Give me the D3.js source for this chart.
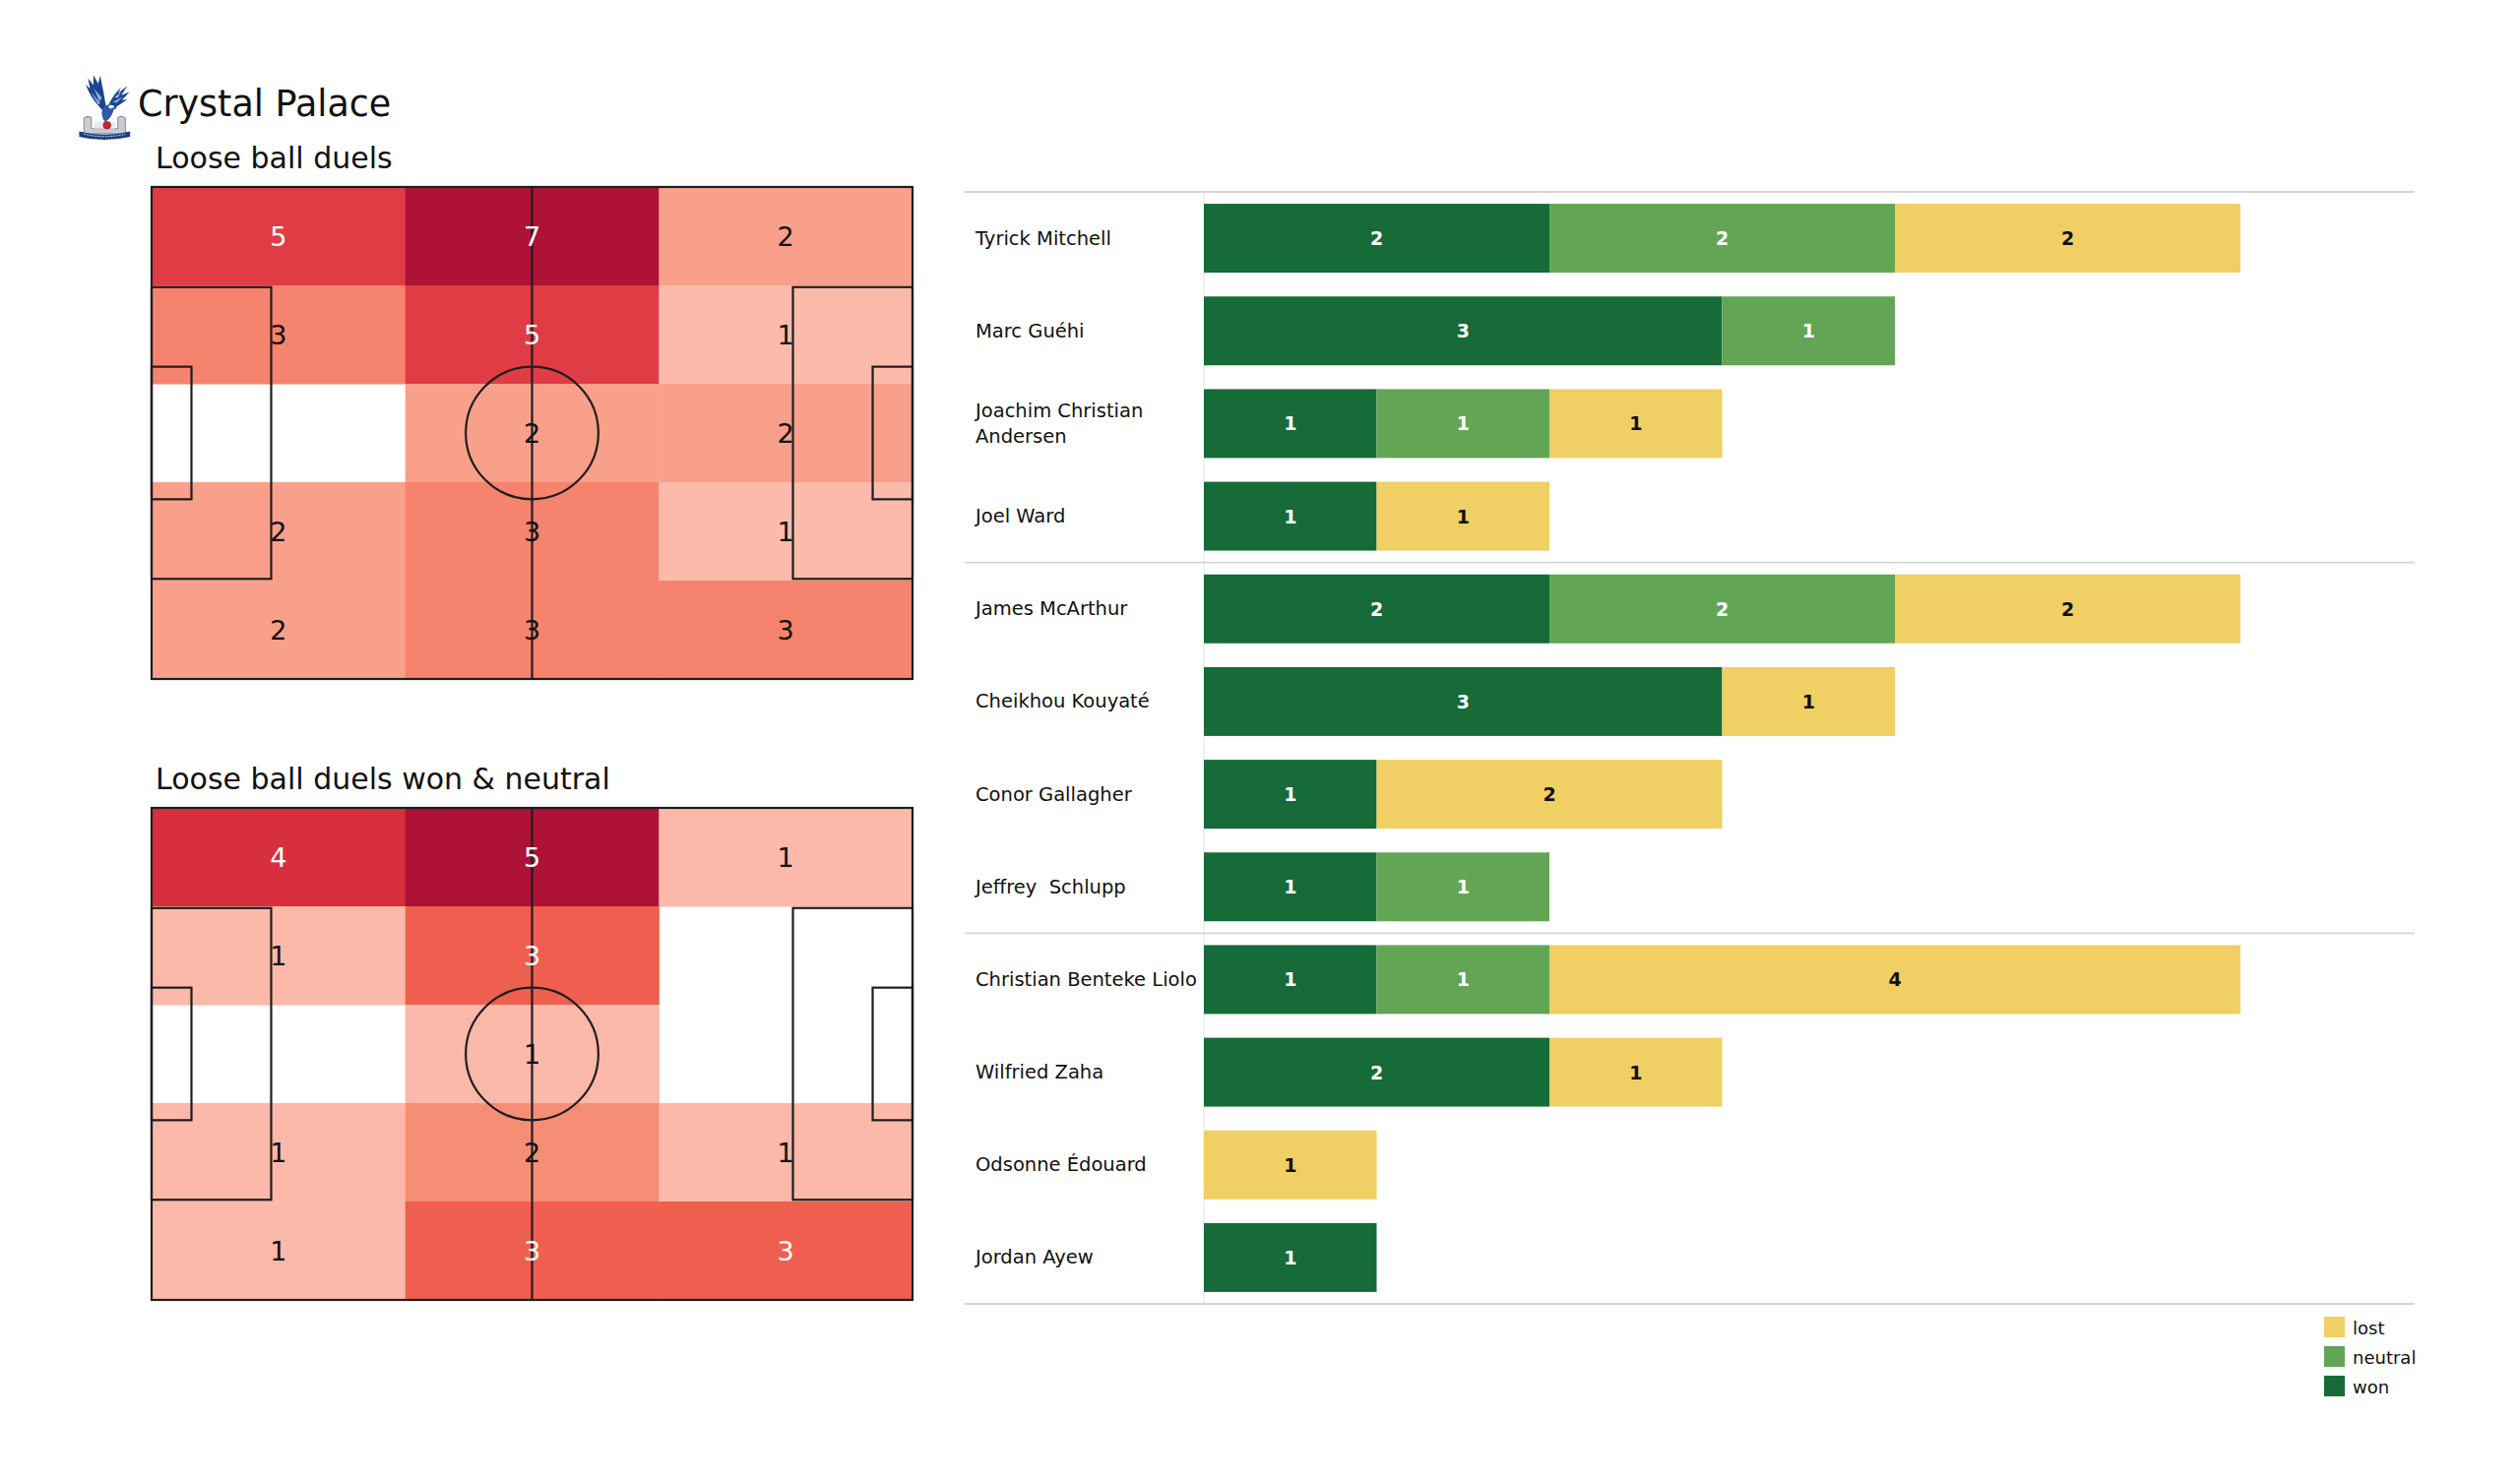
<!DOCTYPE html>
<html>
<head>
<meta charset="utf-8">
<script src="https://cdn.jsdelivr.net/npm/d3@7"></script>
<style>
  html, body { margin: 0; padding: 0; background: #ffffff; }
  svg { display: block; font-family: "DejaVu Sans", sans-serif; }
</style>
</head>
<body>
<script>
// ---------------- DATA ----------------
const teamName = "Crystal Palace";
const pitchTitles = ["Loose ball duels", "Loose ball duels won & neutral"];

// heatmap counts, rows top->bottom, columns left->right (3 x 5 bins)
const duelsAll = [
  [5, 7, 2],
  [3, 5, 1],
  [0, 2, 2],
  [2, 3, 1],
  [2, 3, 3]
];
const duelsWonNeutral = [
  [4, 5, 1],
  [1, 3, 0],
  [0, 1, 0],
  [1, 2, 1],
  [1, 3, 3]
];

const players = [
  "Tyrick Mitchell", "Marc Guéhi", "Joachim Christian\nAndersen", "Joel Ward",
  "James McArthur", "Cheikhou Kouyaté", "Conor Gallagher", "Jeffrey  Schlupp",
  "Christian Benteke Liolo", "Wilfried Zaha", "Odsonne Édouard", "Jordan Ayew"
];
const wonValues     = [2, 3, 1, 1, 2, 3, 1, 1, 1, 2, 0, 1];
const neutralValues = [2, 1, 1, 0, 2, 0, 0, 1, 1, 0, 0, 0];
const lostValues    = [2, 0, 1, 1, 2, 1, 2, 0, 4, 1, 1, 0];
const seriesKeys = ["won", "neutral", "lost"];
const legendLabels = ["lost", "neutral", "won"];
const groupBreaks = [4, 8]; // separator lines after these rows

// ---------------- SETUP ----------------
const W = 2560, H = 1504;
const svg = d3.select("body").append("svg").attr("width", W).attr("height", H);
svg.append("rect").attr("width", W).attr("height", H).attr("fill", "#ffffff");

const colors = { won: "#166b38", neutral: "#62a655", lost: "#f0cf64" };

// ---------------- LOGO ----------------
const logo = svg.append("g").attr("transform", "translate(68,72) scale(0.345)");
// crest base (grey stand)
logo.append("path").attr("d", "M50,185 L50,140 Q60,130 72,138 L72,170 L150,170 L150,138 Q162,130 172,140 L172,185 Z")
  .attr("fill", "#c9ccd3").attr("stroke", "#8a8f99").attr("stroke-width", 3);
logo.append("path").attr("d", "M80,170 L80,150 L142,150 L142,170 Z").attr("fill", "#e8e9ee");
// eagle wings
logo.append("path").attr("d", "M108,120 C90,100 70,80 55,40 L68,52 L62,22 L78,42 L78,12 L92,38 L98,14 L104,44 C110,70 112,95 118,112 Z")
  .attr("fill", "#1b458f");
logo.append("path").attr("d", "M80,52 L95,90 L103,80 Z M70,60 L92,100 L98,95 Z").attr("fill", "#8fb0e0");
logo.append("path").attr("d", "M118,112 C126,90 138,70 160,48 L150,66 L178,44 L160,72 L184,62 L162,86 L178,84 C158,98 140,108 128,120 Z")
  .attr("fill", "#1b458f");
logo.append("path").attr("d", "M140,78 L160,60 L150,80 Z M135,92 L165,76 L146,94 Z").attr("fill", "#8fb0e0");
// body and head
logo.append("path").attr("d", "M105,112 C110,100 128,96 138,104 L148,110 L138,114 C134,130 124,145 112,150 C104,140 100,124 105,112 Z")
  .attr("fill", "#2a5aa8");
logo.append("path").attr("d", "M122,104 C128,98 138,100 140,106 L133,110 C128,112 124,110 122,104 Z").attr("fill", "#ffffff");
// red ball
logo.append("circle").attr("cx", 118).attr("cy", 160).attr("r", 11).attr("fill", "#d0202e").attr("stroke", "#7a1018").attr("stroke-width", 2);
// banner
logo.append("path").attr("d", "M36,178 Q110,198 186,178 L186,194 Q110,212 36,194 Z").attr("fill", "#1b3f80");
logo.append("path").attr("d", "M50,186 Q110,201 172,186").attr("stroke", "#c8d2ea").attr("stroke-width", 3).attr("fill", "none").attr("stroke-dasharray", "5,3");

// ---------------- TITLES ----------------
svg.append("text").attr("x", 140).attr("y", 118).attr("font-size", 36.5).attr("fill", "#111").text(teamName);

// ---------------- PITCHES ----------------
const pitchLen = 105, pitchWid = 68;
const colorStops = [0.14, 0.2, 0.286, 0.4, 0.43, 0.6, 0.714, 0.8, 1.0];
const colorVals  = ["#fcbbaa", "#fcb8a8", "#f9a08a", "#f68e76", "#f6826e", "#ef5f4f", "#e03c45", "#d72f3d", "#ae1237"];
const heatColor = d3.scaleLinear().domain(colorStops).range(colorVals).clamp(true);

function drawPitch(counts, title, top) {
  const x = d3.scaleLinear().domain([0, pitchLen]).range([154, 927]);
  const y = d3.scaleLinear().domain([0, pitchWid]).range([top, top + 500]);
  const g = svg.append("g");
  svg.append("text").attr("x", 158).attr("y", top - 19).attr("font-size", 30).attr("fill", "#111").text(title);

  const nRows = counts.length, nCols = counts[0].length;
  const maxV = d3.max(counts.flat());
  const cells = [];
  counts.forEach((row, r) => row.forEach((v, c) => cells.push({ r, c, v })));
  const cw = pitchLen / nCols, rh = pitchWid / nRows;

  g.selectAll("rect.cell").data(cells.filter(d => d.v > 0)).join("rect")
    .attr("class", "cell")
    .attr("x", d => x(d.c * cw))
    .attr("y", d => y(d.r * rh))
    .attr("width", d => x((d.c + 1) * cw) - x(d.c * cw) + 0.5)
    .attr("height", d => y((d.r + 1) * rh) - y(d.r * rh) + 0.5)
    .attr("fill", d => heatColor(d.v / maxV));

  // pitch markings
  const lines = g.append("g").attr("fill", "none").attr("stroke", "#1e1e1e").attr("stroke-width", 2.2);
  lines.append("rect").attr("x", x(0)).attr("y", y(0)).attr("width", x(pitchLen) - x(0)).attr("height", y(pitchWid) - y(0));
  lines.append("line").attr("x1", x(pitchLen / 2)).attr("x2", x(pitchLen / 2)).attr("y1", y(0)).attr("y2", y(pitchWid));
  lines.append("ellipse").attr("cx", x(pitchLen / 2)).attr("cy", y(pitchWid / 2))
    .attr("rx", x(9.15) - x(0)).attr("ry", y(9.15) - y(0));
  const pa = [16.5, 40.32], sy = [5.5, 18.32];
  [[0, 1], [pitchLen, -1]].forEach(([x0, dir]) => {
    [pa, sy].forEach(([depth, width]) => {
      const xa = x0, xb = x0 + dir * depth;
      lines.append("rect")
        .attr("x", x(Math.min(xa, xb))).attr("width", x(depth) - x(0))
        .attr("y", y((pitchWid - width) / 2)).attr("height", y(width) - y(0));
    });
  });

  g.selectAll("text.val").data(cells.filter(d => d.v > 0)).join("text")
    .attr("class", "val")
    .attr("x", d => x((d.c + 0.5) * cw))
    .attr("y", d => y((d.r + 0.5) * rh))
    .attr("text-anchor", "middle").attr("dominant-baseline", "central")
    .attr("font-size", 27)
    .attr("fill", d => d.v / maxV > 0.5 ? "#ffffff" : "#111111")
    .text(d => d.v);
}
drawPitch(duelsAll, pitchTitles[0], 190);
drawPitch(duelsWonNeutral, pitchTitles[1], 821);

// ---------------- BAR CHART ----------------
const barData = players.map((p, i) => ({ player: p, won: wonValues[i], neutral: neutralValues[i], lost: lostValues[i] }));
const stacked = d3.stack().keys(seriesKeys)(barData);
const yb = d3.scaleBand().domain(players).range([195, 1325]).paddingInner(0.257).paddingOuter(0.1285);
const xb = d3.scaleLinear().domain([0, 6]).range([1223, 2276]);

const bc = svg.append("g");
// faint axis line
bc.append("line").attr("x1", 1223).attr("x2", 1223).attr("y1", 195).attr("y2", 1325)
  .attr("stroke", "#eeeeee").attr("stroke-width", 1.5);

// separator lines
const step = yb.step();
const sepYs = [0].concat(groupBreaks, [players.length]).map(k => 195 + k * step);
bc.selectAll("line.sep").data(sepYs).join("line").attr("class", "sep")
  .attr("x1", 980).attr("x2", 2453).attr("y1", d => d).attr("y2", d => d)
  .attr("stroke", "#d5d5d5").attr("stroke-width", 1.8);

stacked.forEach(series => {
  const key = series.key;
  const segs = series.map((d, i) => ({ key, x0: d[0], x1: d[1], player: players[i] })).filter(d => d.x1 > d.x0);
  bc.selectAll(null).data(segs).join("rect")
    .attr("x", d => xb(d.x0)).attr("width", d => xb(d.x1) - xb(d.x0))
    .attr("y", d => yb(d.player)).attr("height", yb.bandwidth())
    .attr("fill", colors[key]);
  bc.selectAll(null).data(segs).join("text")
    .attr("x", d => (xb(d.x0) + xb(d.x1)) / 2)
    .attr("y", d => yb(d.player) + yb.bandwidth() / 2)
    .attr("text-anchor", "middle").attr("dominant-baseline", "central")
    .attr("font-size", 19).attr("font-weight", "bold")
    .attr("fill", key === "lost" ? "#111" : "#ffffff")
    .text(d => d.x1 - d.x0);
});

// player names
players.forEach(p => {
  const lines = p.split("\n");
  const cy = yb(p) + yb.bandwidth() / 2;
  const t = bc.append("text").attr("x", 991).attr("font-size", 19.5).attr("fill", "#111");
  lines.forEach((ln, j) => {
    t.append("tspan").attr("x", 991)
      .attr("y", cy + (j - (lines.length - 1) / 2) * 26)
      .attr("dominant-baseline", "central")
      .attr("xml:space", "preserve")
      .style("white-space", "pre")
      .text(ln);
  });
});

// legend
const lg = svg.append("g");
legendLabels.forEach((lab, i) => {
  const yy = 1338 + i * 30;
  lg.append("rect").attr("x", 2361).attr("y", yy).attr("width", 21).attr("height", 21).attr("fill", colors[lab]);
  lg.append("text").attr("x", 2390).attr("y", yy + 11).attr("dominant-baseline", "central")
    .attr("font-size", 18).attr("fill", "#111").text(lab);
});
</script>
</body>
</html>
